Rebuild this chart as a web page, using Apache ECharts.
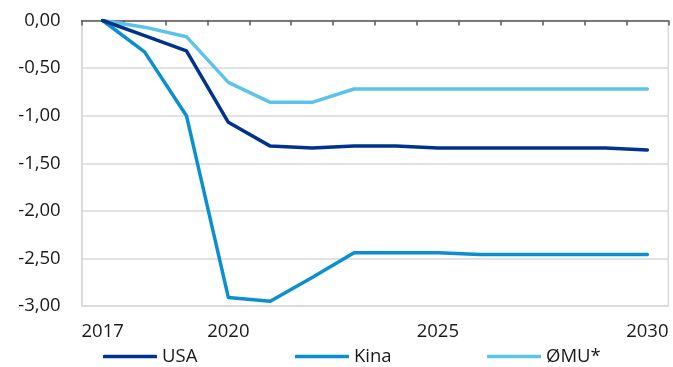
<!DOCTYPE html>
<html><head><meta charset="utf-8">
<script src="https://cdn.jsdelivr.net/npm/echarts@6/dist/echarts.min.js"></script>
<style>html,body{margin:0;padding:0;background:#fff}#c{width:673px;height:367px}</style>
</head><body><div id="c"></div>
<script>
const years = ['2017','2018','2019','2020','2021','2022','2023','2024','2025','2026','2027','2028','2029','2030'];
const shownYears = ['2017','2020','2025','2030'];
const usa = [0, -0.16, -0.32, -1.07, -1.32, -1.34, -1.32, -1.32, -1.34, -1.34, -1.34, -1.34, -1.34, -1.36];
const kina = [0, -0.33, -1.00, -2.91, -2.95, -2.70, -2.44, -2.44, -2.44, -2.46, -2.46, -2.46, -2.46, -2.46];
const omu = [0, -0.07, -0.17, -0.65, -0.86, -0.86, -0.72, -0.72, -0.72, -0.72, -0.72, -0.72, -0.72, -0.72];
const names = ['USA','Kina','ØMU*'];
const colors = ['#00338D','#0A90D0','#5DC3EA'];
const font = '"Open Sans", "Noto Sans", sans-serif';
const fs = 18.5;

const chart = echarts.init(document.getElementById('c'), null, {renderer:'canvas'});
const legendLefts = [103, 295, 487];
chart.setOption({
  animation: false,
  grid: {left: 81.7, right: 4.7, top: 20.5, bottom: 61, show: true, borderColor: '#d9d9d9', borderWidth: 1.5},
  xAxis: [
    {type:'category', data: years, position:'top', boundaryGap:true,
     axisLine:{show:true, lineStyle:{color:'#595959', width:1.5}},
     axisTick:{show:true, inside:true, length:5, alignWithLabel:false, lineStyle:{color:'#595959', width:1.5}},
     axisLabel:{show:false}, splitLine:{show:false}},
    {type:'category', data: years, position:'bottom', boundaryGap:true,
     axisLine:{show:false}, axisTick:{show:false},
     axisLabel:{show:true, margin:16, fontSize:fs, color:'#1a1a1a', fontFamily:font,
       interval: (i, v) => shownYears.includes(v)}, splitLine:{show:false}}
  ],
  yAxis: {type:'value', min:-3, max:0, interval:0.5,
    axisLine:{show:true, lineStyle:{color:'#d9d9d9', width:1.5}},
    axisTick:{show:false},
    splitLine:{show:true, lineStyle:{color:'#d9d9d9', width:1.5}},
    axisLabel:{margin:21, fontSize:fs, color:'#1a1a1a', fontFamily:font,
      formatter: v => v.toFixed(2).replace('.', ',')}},
  legend: names.map((n, i) => ({
    data:[n], left: legendLefts[i], top: 347, itemWidth: 54, itemHeight: 3.5, itemGap: 5,
    icon: 'roundRect',
    textStyle:{fontSize:fs, color:'#1a1a1a', fontFamily:font, padding:[0,0,0,0]},
    padding: 0
  })),
  series: [usa, kina, omu].map((d, i) => ({
    name: names[i], type:'line', data: d, xAxisIndex: 0, symbol:'none', smooth:false,
    lineStyle:{color: colors[i], width:3.5, cap:'round', join:'round'},
    itemStyle:{color: colors[i]}, z: 3 - i
  }))
});
</script></body></html>
